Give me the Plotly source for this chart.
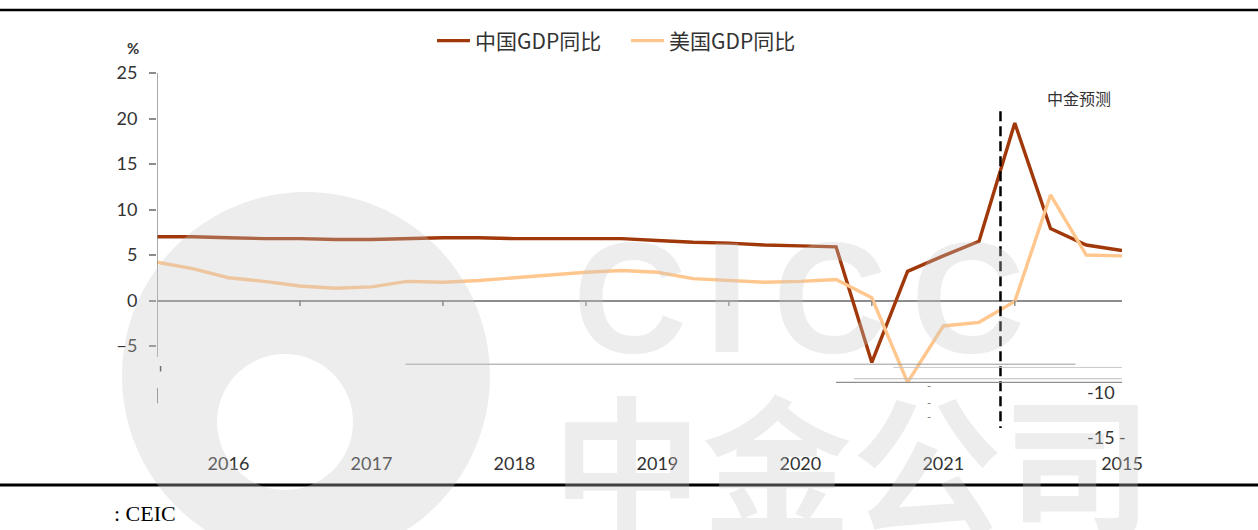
"""中美GDP同比走势图（含中金预测）"""

import numpy as np
import plotly.graph_objects as go

INK = "#333333"
AXIS = "#8c8c8c"
CHINA = "#A0380A"
US = "#FFC68E"
WATERMARK = "rgba(200,200,200,0.32)"
CJK = "Noto Sans CJK SC, sans-serif"
LATIN = "Lato, Noto Sans, sans-serif"

QUARTERS = [
    "2015Q1", "2015Q2", "2015Q3", "2015Q4",
    "2016Q1", "2016Q2", "2016Q3", "2016Q4",
    "2017Q1", "2017Q2", "2017Q3", "2017Q4",
    "2018Q1", "2018Q2", "2018Q3", "2018Q4",
    "2019Q1", "2019Q2", "2019Q3", "2019Q4",
    "2020Q1", "2020Q2", "2020Q3", "2020Q4",
    "2021Q1", "2021Q2", "2021Q3", "2021Q4",
]
CHINA_GDP = [
    7.0, 7.0, 6.9, 6.8, 6.8, 6.7, 6.7, 6.8,
    6.9, 6.9, 6.8, 6.8, 6.8, 6.8, 6.6, 6.4,
    6.3, 6.1, 6.0, 5.9, -6.8, 3.2, 4.9, 6.5,
    19.5, 7.9, 6.1, 5.5,
]
US_GDP = [
    4.2, 3.5, 2.5, 2.1, 1.6, 1.35, 1.5, 2.1,
    2.0, 2.2, 2.5, 2.8, 3.1, 3.3, 3.1, 2.4,
    2.2, 2.0, 2.1, 2.3, 0.3, -9.0, -2.8, -2.4,
    -0.1, 11.6, 5.0, 4.9,
]
YEAR_POS = [2, 6, 10, 14, 18, 22, 27]
YEAR_LABELS = ["2016", "2017", "2018", "2019", "2020", "2021", "2015"]
YEAR_BREAKS = [4, 8, 12, 16, 20, 24]
Y_TICKS = [-5, 0, 5, 10, 15, 20, 25]
FORECAST_X = 23.6

x = np.arange(len(QUARTERS))

fig = go.Figure()
fig.add_trace(go.Scatter(
    x=x, y=CHINA_GDP, name="中国GDP同比", mode="lines",
    line=dict(color=CHINA, width=3.4), customdata=QUARTERS,
    hovertemplate="%{customdata}: %{y:.1f}%<extra></extra>",
))
fig.add_trace(go.Scatter(
    x=x, y=US_GDP, name="美国GDP同比", mode="lines",
    line=dict(color=US, width=3.4), customdata=QUARTERS,
    hovertemplate="%{customdata}: %{y:.1f}%<extra></extra>",
))


def ring_path(cx, cy, r_out, hx, hy, r_in, n=90):
    t = np.linspace(0, 2 * np.pi, n, endpoint=False)
    outer = " ".join(f"L{cx + r_out * np.cos(a):.1f},{cy + r_out * np.sin(a):.1f}" for a in t)
    inner = " ".join(f"L{hx + r_in * np.cos(a):.1f},{hy + r_in * np.sin(a):.1f}" for a in t)
    return "M" + outer[1:] + " Z M" + inner[1:] + " Z"


shapes = [
    # rules top / bottom
    dict(type="line", xref="paper", yref="paper", x0=-0.2, x1=1.2, y0=1.173, y1=1.173,
         line=dict(color="black", width=2.5)),
    dict(type="line", xref="paper", yref="paper", x0=-0.2, x1=1.2, y0=-0.132, y1=-0.132,
         line=dict(color="black", width=3)),
    # broken y axis line
    dict(type="line", xref="x", yref="y", x0=0, x1=0, y0=25, y1=-6.2,
         line=dict(color=AXIS, width=1.5)),
    dict(type="line", xref="x", yref="y", x0=0, x1=0, y0=-9.6, y1=-11.3,
         line=dict(color="#666666", width=1.5)),
    dict(type="line", xref="x", yref="y", x0=0.1, x1=0.1, y0=-7.2, y1=-7.8,
         line=dict(color="#444444", width=1.5)),
    # forecast divider
    dict(type="line", xref="x", yref="y", x0=FORECAST_X, x1=FORECAST_X, y0=20.8, y1=-14.0,
         line=dict(color="black", width=2.5, dash="10px,5px")),
    # stray gridlines
    dict(type="line", xref="x", yref="y", x0=6.95, x1=25.7, y0=-7.0, y1=-7.0,
         line=dict(color="#9a9a9a", width=1)),
    dict(type="line", xref="x", yref="y", x0=20.6, x1=27, y0=-7.35, y1=-7.35,
         line=dict(color="#c8c8c8", width=1)),
    dict(type="line", xref="x", yref="y", x0=19.5, x1=27, y0=-8.6, y1=-8.6,
         line=dict(color="#bdbdbd", width=1)),
    dict(type="line", xref="x", yref="y", x0=19.0, x1=27, y0=-9.0, y1=-9.0,
         line=dict(color="#8f8f8f", width=1.2)),
    # watermark ring
    dict(type="path", xref="paper", yref="paper", xsizemode="pixel", ysizemode="pixel",
         xanchor=0, yanchor=0, layer="above", fillrule="evenodd",
         path=ring_path(149, 61, 184, 128, 15, 68),
         fillcolor=WATERMARK, line=dict(width=0)),
]
for tx in YEAR_BREAKS:
    shapes.append(dict(type="line", xref="x", yref="y", x0=tx, x1=tx, y0=0, y1=-0.6,
                       line=dict(color=AXIS, width=1.5)))


def note(text, xx, yy, size, color=INK, family=LATIN, xref="x", yref="y", **kw):
    return dict(text=text, x=xx, y=yy, xref=xref, yref=yref, showarrow=False,
                xanchor=kw.pop("xanchor", "center"), yanchor="middle",
                font=dict(family=family, size=size, color=color), **kw)


annotations = [
    note("<b>%</b>", -0.025, 1.069, 15, xref="paper", yref="paper"),
    note("中金预测", 25.8, 22.3, 16, family=CJK),
    note("-10", 26.4, -10, 18),
    note("-15", 26.4, -15, 18),
    note("-", 27.0, -15, 18),
    note(": CEIC", -0.047, -0.21, 22, color="black", family="Liberation Serif, serif",
         xref="paper", yref="paper", xanchor="left"),
    note("<b>中金公司</b>", 0.72, -0.058, 150, color=WATERMARK,
         family=CJK, xref="paper", yref="paper"),
]
for letter, lx in zip("CICC", [0.49, 0.591, 0.697, 0.84]):
    annotations.append(note("<b>%s</b>" % letter, lx, 0.385, 158, color=WATERMARK,
                            family="Liberation Sans, Arial, sans-serif",
                            xref="paper", yref="paper"))
for yv in [-9.3, -11.2, -12.8]:
    annotations.append(note("-", 21.6, yv, 11, color="#777777"))

fig.update_layout(
    width=1258,
    height=530,
    margin=dict(l=157, r=136, t=73, b=93),
    paper_bgcolor="white",
    plot_bgcolor="white",
    font=dict(family=LATIN, color=INK, size=18),
    showlegend=True,
    legend=dict(orientation="h", x=0.486, xanchor="center", y=1.088, yanchor="middle",
                font=dict(family=CJK, size=21, color=INK), bgcolor="rgba(0,0,0,0)",
                itemwidth=33, entrywidth=146),
    shapes=shapes,
    annotations=annotations,
    hovermode="closest",
)
fig.update_xaxes(range=[0, 27], showgrid=False, zeroline=False, showline=False,
                 tickvals=YEAR_POS, ticktext=YEAR_LABELS, ticks="",
                 ticklabelstandoff=14, tickfont=dict(size=18, color=INK), fixedrange=True)
fig.update_yaxes(range=[-15, 25], showgrid=False, zeroline=True, zerolinecolor=AXIS,
                 zerolinewidth=1.5, showline=False, tickvals=Y_TICKS, ticks="outside",
                 ticklen=7, tickcolor=AXIS, tickwidth=1.5, ticklabelstandoff=8,
                 tickfont=dict(size=18, color=INK), fixedrange=True)

fig.write_html("out.html", config={"displayModeBar": False},
               post_script="document.body.style.margin='0';")
